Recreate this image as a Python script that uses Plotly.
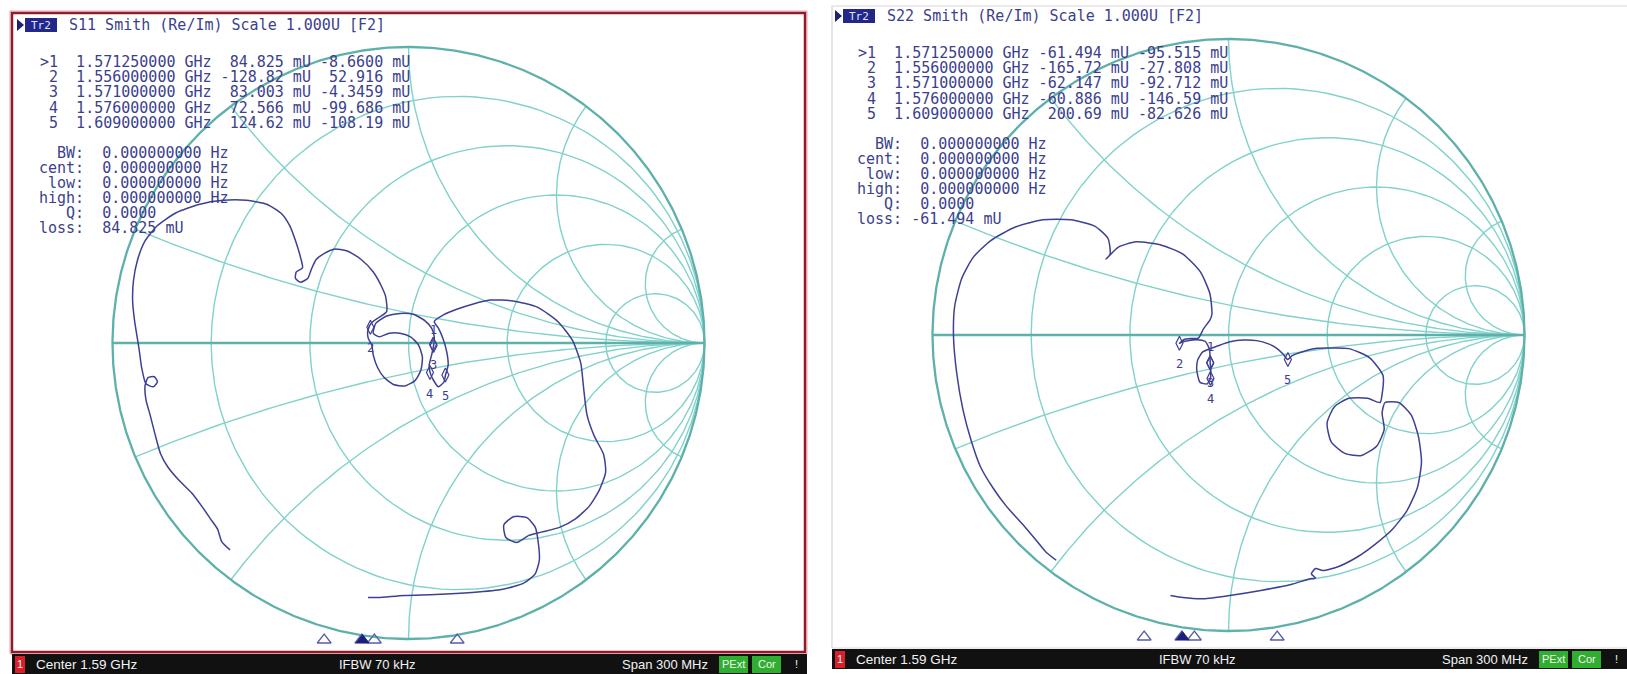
import numpy as np
import plotly.graph_objects as go

W, H = 1627, 674

# ---- channel / stimulus settings ----
center_ghz = 1.59
span_mhz = 300
ifbw_khz = 70

# ---- marker table: frequency and reflection coefficient (milli-units) ----
marker_ids = [1, 2, 3, 4, 5]
marker_freq_ghz = [1.57125, 1.556, 1.571, 1.576, 1.609]
s11_mk_re = [84.825, -128.82, 83.003, 72.566, 124.62]
s11_mk_im = [-8.6600, 52.916, -4.3459, -99.686, -108.19]
s22_mk_re = [-61.494, -165.72, -62.147, -60.886, 200.69]
s22_mk_im = [-95.515, -27.808, -92.712, -146.59, -82.626]

# ---- swept reflection coefficient, real / imaginary part ----
s11_re = [-0.603, -0.631, -0.645, -0.669, -0.698, -0.733, -0.778, -0.813, -0.838, -0.855,
          -0.873, -0.887, -0.890, -0.880, -0.859, -0.848, -0.862, -0.887, -0.901, -0.911,
          -0.925, -0.932, -0.929, -0.915, -0.890, -0.848, -0.785, -0.708, -0.627, -0.547,
          -0.477, -0.428, -0.400, -0.382, -0.365, -0.358, -0.379, -0.382, -0.365, -0.340,
          -0.329, -0.312, -0.284, -0.252, -0.207, -0.161, -0.119, -0.091,
          -0.077, -0.074, -0.099, -0.124, -0.137, -0.136, -0.124, -0.119, -0.105, -0.083,
          -0.051, -0.012, 0.022, 0.042, 0.047, 0.034, 0.007, -0.029, -0.065, -0.099,
          -0.119, -0.110, -0.074, -0.029, 0.016, 0.056, 0.078, 0.087, 0.085, 0.078,
          0.070, 0.073, 0.084, 0.101, 0.120, 0.125, 0.134, 0.129, 0.116, 0.101,
          0.087, 0.118, 0.163, 0.219, 0.275,
          0.354, 0.435, 0.505, 0.554, 0.582, 0.592, 0.603, 0.627, 0.659, 0.666,
          0.645, 0.610, 0.564, 0.512, 0.449, 0.407, 0.365, 0.329, 0.322, 0.354,
          0.400, 0.428, 0.438, 0.442, 0.428, 0.389, 0.319, 0.214, 0.091, -0.014,
          -0.102, -0.137]
s11_im = [-0.699, -0.671, -0.629, -0.594, -0.552, -0.506, -0.461, -0.419, -0.373, -0.313,
          -0.243, -0.191, -0.145, -0.117, -0.114, -0.131, -0.148, -0.138, -0.086, -0.015,
          0.072, 0.142, 0.212, 0.282, 0.345, 0.397, 0.440, 0.468, 0.482, 0.482,
          0.468, 0.436, 0.394, 0.346, 0.290, 0.254, 0.240, 0.219, 0.205, 0.219,
          0.247, 0.282, 0.303, 0.317, 0.311, 0.283, 0.240, 0.191,
          0.156, 0.106, 0.087, 0.069, 0.044, 0.016, -0.007, -0.041, -0.082, -0.116,
          -0.140, -0.145, -0.127, -0.091, -0.048, -0.007, 0.021, 0.033, 0.033, 0.021,
          0.033, 0.067, 0.091, 0.100, 0.097, 0.075, 0.050, 0.021, -0.007, -0.041,
          -0.074, -0.100, -0.125, -0.148, -0.131, -0.108, -0.074, -0.029, 0.016, 0.050,
          0.072, 0.095, 0.114, 0.132, 0.145,
          0.142, 0.121, 0.072, 0.009, -0.068, -0.156, -0.243, -0.313, -0.376, -0.436,
          -0.496, -0.552, -0.594, -0.622, -0.639, -0.650, -0.674, -0.657, -0.615, -0.587,
          -0.590, -0.622, -0.671, -0.734, -0.780, -0.811, -0.832, -0.843, -0.850, -0.853,
          -0.860, -0.860]

s22_re = [-0.582, -0.617, -0.652, -0.697, -0.750, -0.796, -0.838, -0.869, -0.897, -0.918,
          -0.929, -0.925, -0.901, -0.862, -0.803, -0.722, -0.627, -0.533, -0.452, -0.407,
          -0.400, -0.414, -0.372, -0.312, -0.231, -0.154, -0.095, -0.063, -0.056,
          -0.0625, -0.085, -0.102, -0.125, -0.150, -0.166, -0.150, -0.110, -0.078, -0.064,
          -0.062, -0.060, -0.061, -0.072, -0.096, -0.107, -0.104, -0.088, -0.065, -0.040,
          0.005, 0.050, 0.095, 0.135, 0.163, 0.185, 0.200, 0.215, 0.253, 0.298,
          0.343, 0.407, 0.477, 0.522, 0.519, 0.512, 0.470, 0.407, 0.358, 0.333, 0.347,
          0.393, 0.449, 0.501, 0.526, 0.519, 0.529, 0.575, 0.617, 0.641, 0.652,
          0.638, 0.603, 0.554, 0.494, 0.435, 0.372, 0.319, 0.294, 0.280, 0.294,
          0.273, 0.214, 0.109, 0.004, -0.084, -0.154, -0.196]
s22_im = [-0.761, -0.733, -0.691, -0.638, -0.579, -0.516, -0.445, -0.358, -0.253, -0.130,
          -0.007, 0.098, 0.192, 0.263, 0.319, 0.364, 0.389, 0.389, 0.368, 0.326,
          0.273, 0.256, 0.297, 0.315, 0.305, 0.273, 0.213, 0.140, 0.070,
          0.051, 0.020, -0.011, -0.012, -0.015, -0.028, -0.022, -0.016, -0.022, -0.050,
          -0.093, -0.120, -0.147, -0.165, -0.160, -0.120, -0.084, -0.058, -0.047, -0.038,
          -0.023, -0.017, -0.019, -0.030, -0.045, -0.065, -0.083, -0.070, -0.056, -0.045,
          -0.044, -0.046, -0.077, -0.137, -0.200, -0.228, -0.214, -0.214, -0.242, -0.298, -0.361,
          -0.400, -0.407, -0.375, -0.319, -0.263, -0.228, -0.228, -0.270, -0.340, -0.428,
          -0.516, -0.593, -0.656, -0.708, -0.750, -0.782, -0.796, -0.789, -0.807, -0.821,
          -0.824, -0.842, -0.863, -0.880, -0.891, -0.887, -0.880]

# ---- Smith chart graticule values ----
grid_r = [0.2, 0.5, 1.0, 2.0, 5.0]
grid_x = [0.2, 0.5, 1.0, 2.0, 5.0]

# ---- colours ----
TRACE = "#3d4093"
TEXT = "#3b3f8e"
GRID = "#80d2ca"
GRID_MAIN = "#5eb0aa"
MONO = "DejaVu Sans Mono"

# ---- panel geometry (pixels) ----
R_PX = 296.0
panels = [
    dict(name="S11", x0=0, x1=820, cx=408.5, cy=343.0, dx=0, dy=0,
         re=s11_re, im=s11_im, mre=s11_mk_re, mim=s11_mk_im),
    dict(name="S22", x0=820, x1=W, cx=1228.5, cy=335.0, dx=818, dy=-9,
         re=s22_re, im=s22_im, mre=s22_mk_re, mim=s22_mk_im),
]
STIM_L, STIM_R = 33, 786          # stimulus axis extent inside a panel
STIM_Y = [640, 637]


def paper(x, y):
    return x / W, 1 - y / H


def signed(v):
    s = f"{v:#.5g}"
    return s if s.startswith("-") else " " + s


def graticule():
    gx, gy = [], []
    xs = np.concatenate([-np.logspace(3, -3, 300), np.logspace(-3, 3, 300)])
    for r in grid_r:
        g = (r + 1j * xs - 1) / (r + 1j * xs + 1)
        gx += list(g.real) + [1.0, None]
        gy += list(g.imag) + [0.0, None]
    rs = np.concatenate([[0.0], np.logspace(-3, 3, 400)])
    for xv in grid_x:
        for s in (1, -1):
            g = (rs + 1j * s * xv - 1) / (rs + 1j * s * xv + 1)
            gx += list(g.real) + [None]
            gy += list(g.imag) + [None]
    return gx, gy


fig = go.Figure()
shapes, annos = [], []
f_start = center_ghz - span_mhz / 2000
f_stop = center_ghz + span_mhz / 2000
ghz_per_px = (f_stop - f_start) / (STIM_R - STIM_L)

gx, gy = graticule()
t = np.linspace(0, 2 * np.pi, 721)

for i, p in enumerate(panels):
    n = "" if i == 0 else str(i + 1)
    xa, ya = "x" + n, "y" + n
    fa = "x" + str(i + 3)
    pw = p["x1"] - p["x0"]
    lx = p["cx"] - p["x0"]
    fig.update_layout({
        "xaxis" + n: dict(domain=[p["x0"] / W, p["x1"] / W], range=[-lx / R_PX, (pw - lx) / R_PX],
                          visible=False, fixedrange=True, anchor=ya),
        "yaxis" + n: dict(domain=[0, 1], range=[-(H - p["cy"]) / R_PX, p["cy"] / R_PX],
                          visible=False, fixedrange=True, anchor=xa),
        "xaxis" + str(i + 3): dict(overlaying=xa, anchor=ya, visible=False, fixedrange=True,
                                   range=[f_start - STIM_L * ghz_per_px,
                                          f_start + (pw - STIM_L) * ghz_per_px]),
    })
    # graticule
    fig.add_trace(go.Scatter(x=gx, y=gy, xaxis=xa, yaxis=ya, mode="lines",
                             line=dict(color=GRID, width=1.4), hoverinfo="skip", showlegend=False))
    fig.add_trace(go.Scatter(x=list(np.cos(t)) + [None, -1, 1], y=list(np.sin(t)) + [None, 0, 0],
                             xaxis=xa, yaxis=ya, mode="lines",
                             line=dict(color=GRID_MAIN, width=2.3), hoverinfo="skip", showlegend=False))
    # measured trace
    fig.add_trace(go.Scatter(x=p["re"], y=p["im"], xaxis=xa, yaxis=ya, mode="lines",
                             line=dict(color=TRACE, width=1.5, shape="spline", smoothing=0.6),
                             showlegend=False))
    # markers on the trace
    mre = [v / 1000 for v in p["mre"]]
    mim = [v / 1000 for v in p["mim"]]
    fig.add_trace(go.Scatter(x=mre, y=mim, xaxis=xa, yaxis=ya, mode="markers",
                             marker=dict(symbol="diamond-tall-open", size=10,
                                         color=TRACE, line=dict(width=1.2, color=TRACE)),
                             showlegend=False))
    for k, (mid, a, b) in enumerate(zip(marker_ids, mre, mim)):
        annos.append(dict(x=a, y=b, xref=xa, yref=ya, text=str(mid), showarrow=False,
                          yshift=16 if k == 0 else -21,
                          font=dict(family=MONO, size=12, color=TRACE)))
    # stimulus marker indicators
    ys = -(STIM_Y[i] - p["cy"]) / R_PX
    fig.add_trace(go.Scatter(x=marker_freq_ghz[1:], y=[ys] * 4, xaxis=fa, yaxis=ya, mode="markers",
                             marker=dict(symbol="triangle-up-open", size=12, color="#5a5ea8",
                                         line=dict(width=1.3)), showlegend=False))
    fig.add_trace(go.Scatter(x=marker_freq_ghz[:1], y=[ys], xaxis=fa, yaxis=ya, mode="markers",
                             marker=dict(symbol="triangle-up", size=12, color="#1c1f7a"),
                             showlegend=False))

    dx, dy = p["dx"], p["dy"]
    # title line
    x0, y0 = paper(17 + dx, 19 + dy)
    x1, y1 = paper(24 + dx, 25 + dy)
    x2, y2 = paper(17 + dx, 31 + dy)
    shapes.append(dict(type="path", xref="paper", yref="paper",
                       path=f"M {x0} {y0} L {x1} {y1} L {x2} {y2} Z",
                       fillcolor="#1c1f7a", line=dict(width=0)))
    bx0, by0 = paper(25 + dx, 18 + dy)
    bx1, by1 = paper(57 + dx, 32 + dy)
    shapes.append(dict(type="rect", xref="paper", yref="paper", x0=bx0, x1=bx1, y0=by1, y1=by0,
                       fillcolor="#23278a", line=dict(width=0)))
    tx, ty = paper(41 + dx, 25 + dy)
    annos.append(dict(x=tx, y=ty, xref="paper", yref="paper", text="Tr2", showarrow=False,
                      xanchor="center", yanchor="middle",
                      font=dict(family=MONO, size=11, color="#dfe3ff")))
    tx, ty = paper(67 + dx, 25 + dy)
    annos.append(dict(x=tx, y=ty, xref="paper", yref="paper",
                      text=f"{p['name']} Smith (Re/Im) Scale 1.000U [F2]".replace(" ", "\u00a0"),
                      showarrow=False, xanchor="left", yanchor="middle",
                      font=dict(family=MONO, size=15, color=TEXT)))
    # marker table
    for k, (mid, f, a, b) in enumerate(zip(marker_ids, marker_freq_ghz, p["mre"], p["mim"])):
        head = (">" if k == 0 else " ") + str(mid)
        line = f"{head}  {f:.9f} GHz {a:>#7.5g} mU {b:>#7.5g} mU"
        tx, ty = paper(38 + dx, 62 + dy + 15.2 * k)
        annos.append(dict(x=tx, y=ty, xref="paper", yref="paper", text=line.replace(" ", "\u00a0"),
                          showarrow=False, xanchor="left", yanchor="middle",
                          font=dict(family=MONO, size=15, color=TEXT)))
    # bandwidth search block
    rows = [("BW:", " 0.000000000 Hz"), ("cent:", " 0.000000000 Hz"), ("low:", " 0.000000000 Hz"),
            ("high:", " 0.000000000 Hz"), ("Q:", " 0.0000"), ("loss:", signed(p["mre"][0]) + " mU")]
    for k, (lab, val) in enumerate(rows):
        line = f"{lab:>5} {val}"
        tx, ty = paper(37 + dx, 153 + dy + 14.9 * k)
        annos.append(dict(x=tx, y=ty, xref="paper", yref="paper", text=line.replace(" ", "\u00a0"),
                          showarrow=False, xanchor="left", yanchor="middle",
                          font=dict(family=MONO, size=15, color=TEXT)))


# ---- window frames ----
def rect(xa, ya, xb, yb, **kw):
    a, b = paper(xa, ya)
    c, d = paper(xb, yb)
    shapes.append(dict(type="rect", xref="paper", yref="paper", x0=a, x1=c, y0=d, y1=b, **kw))


rect(10, 11, 807, 654, line=dict(color="#eaa3aa", width=1), fillcolor="rgba(0,0,0,0)", layer="below")
rect(12, 13, 805, 652, line=dict(color="#8e1d27", width=2.5), fillcolor="rgba(0,0,0,0)")
rect(832, 6, 1640, 648, line=dict(color="#ddd3d5", width=1.2), fillcolor="rgba(0,0,0,0)")

# ---- status bars ----
bars = [dict(x0=12, x1=807, y0=654, y1=674, dx=0), dict(x0=832, x1=1627, y0=649, y1=669, dx=820)]
for b in bars:
    dx = b["dx"]
    yc = (b["y0"] + b["y1"]) / 2
    rect(b["x0"], b["y0"], b["x1"], b["y1"], fillcolor="#111111", line=dict(width=0))
    rect(15 + dx, b["y0"] + 2, 25 + dx, b["y1"] - 1, fillcolor="#d8202a", line=dict(width=0))
    rect(719 + dx, b["y0"] + 2, 748 + dx, b["y1"] - 1, fillcolor="#2fae2f", line=dict(width=0))
    rect(752 + dx, b["y0"] + 2, 781 + dx, b["y1"] - 1, fillcolor="#2fae2f", line=dict(width=0))
    items = [("1", 20, "center", 11), ("Center " + f"{center_ghz:g} GHz", 34, "left", 13.5),
             (f"IFBW {ifbw_khz} kHz", 377, "center", 13), (f"Span {span_mhz} MHz", 710, "right", 13),
             ("PExt", 733.5, "center", 11), ("Cor", 766.5, "center", 11), ("!", 796, "center", 11)]
    for txt, x, anc, sz in items:
        tx, ty = paper(x + dx, yc)
        annos.append(dict(x=tx, y=ty, xref="paper", yref="paper", text=txt, showarrow=False,
                          xanchor=anc, yanchor="middle",
                          font=dict(family="Liberation Sans", size=sz, color="#f2f2f2")))

fig.update_layout(width=W, height=H, margin=dict(l=0, r=0, t=0, b=0),
                  paper_bgcolor="white", plot_bgcolor="rgba(0,0,0,0)",
                  shapes=shapes, annotations=annos, showlegend=False)
fig.write_html("out.html", config=dict(displayModeBar=False))
